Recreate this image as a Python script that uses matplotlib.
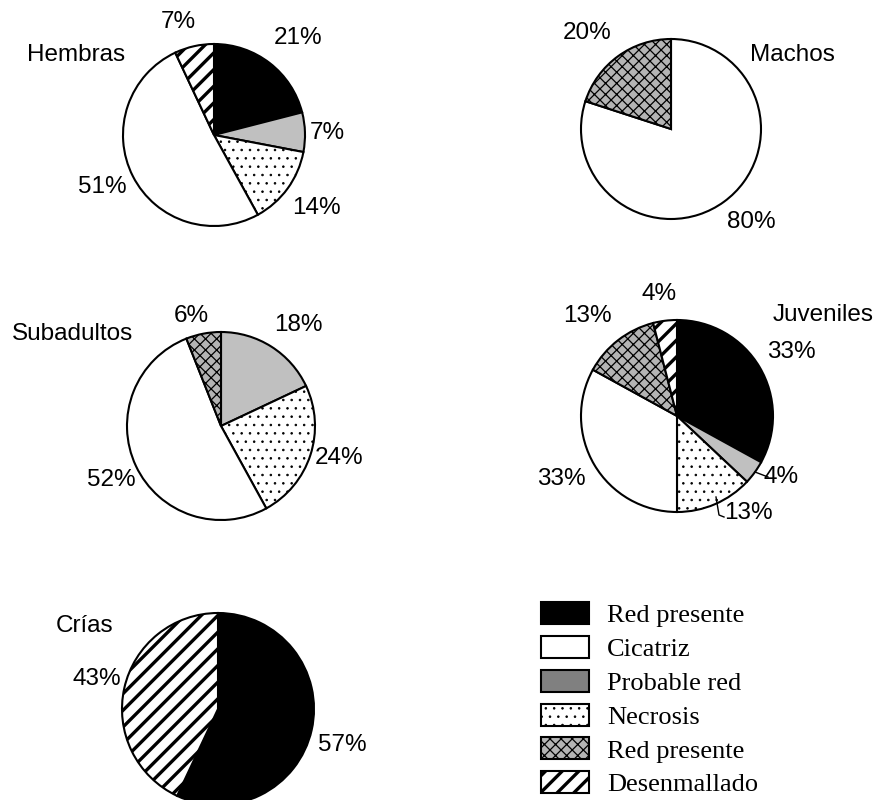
import numpy as np
import matplotlib.pyplot as plt
from matplotlib.patches import Patch

plt.rcParams['hatch.linewidth'] = 0.8

# categorias (orden de la leyenda)
categorias = ['Red presente', 'Cicatriz', 'Probable red', 'Necrosis',
              'Red presente', 'Desenmallado']
colores = ['black', 'white', '#c0c0c0', 'white', '#b4b4b4', 'white']
tramas = ['', '', '', '..', 'xxx', '//']
grosor_trama = [None, None, None, 0.6, 0.9, 2.4]

# porcentajes por grupo (mismo orden que categorias, 0 = no aparece)
hembras = [21, 51, 7, 14, 0, 7]
machos = [0, 80, 0, 0, 20, 0]
subadultos = [0, 52, 18, 24, 6, 0]
juveniles = [33, 33, 4, 13, 13, 4]
crias = [57, 0, 0, 0, 0, 43]

# orden de dibujo en sentido horario desde las 12
orden = [0, 2, 3, 1, 4, 5]

H = 800
fig = plt.figure(figsize=(8.81, 8), dpi=100)
ax = fig.add_axes([0, 0, 1, 1])


def dibujar_pie(vals, cx, cy, r):
    idx = [i for i in orden if vals[i] > 0]
    wedges, _ = ax.pie([vals[i] for i in idx],
                       colors=[colores[i] for i in idx],
                       hatch=[tramas[i] for i in idx],
                       startangle=90, counterclock=False,
                       center=(cx, H - cy), radius=r,
                       wedgeprops=dict(edgecolor='black', linewidth=1.5))
    for w, i in zip(wedges, idx):
        if grosor_trama[i] and hasattr(w, 'set_hatch_linewidth'):
            w.set_hatch_linewidth(grosor_trama[i])
    return wedges


dibujar_pie(hembras, 214, 135, 91)
dibujar_pie(machos, 671, 129, 90)
dibujar_pie(subadultos, 221, 426, 94)
dibujar_pie(juveniles, 677, 416, 96)
dibujar_pie(crias, 218, 709, 96)

ax.set_xlim(0, 881)
ax.set_ylim(0, 800)
ax.set_aspect('equal')
ax.axis('off')

fs = 17.5
sans = 'Liberation Sans'


def txt(x, y, s):
    ax.text(x, H - y, s, fontsize=fs, family=sans, ha='center', va='center')


# Hembras
txt(76, 55, 'Hembras')
txt(178, 22, '7%')
txt(298, 38, '21%')
txt(327, 133, '7%')
txt(316, 208, '14%')
txt(102, 187, '51%')
# Machos
txt(587, 33, '20%')
txt(792, 55, 'Machos')
txt(751, 222, '80%')
# Subadultos
txt(73, 334, 'Subadultos')
txt(191, 316, '6%')
txt(298, 325, '18%')
txt(339, 458, '24%')
txt(111, 480, '52%')
# Juveniles
txt(823, 315, 'Juveniles')
txt(659, 294, '4%')
txt(587, 316, '13%')
txt(791, 352, '33%')
txt(781, 477, '4%')
txt(748, 513, '13%')
txt(561, 479, '33%')
ax.plot([755, 768], [H - 472, H - 477], color='black', lw=1)
ax.plot([716, 719, 724], [H - 497, H - 515, H - 517], color='black', lw=1)
# Crías
txt(85, 626, 'Crías')
txt(97, 679, '43%')
txt(342, 745, '57%')

# leyenda
lfs = 19
handles = []
for c, t, g, nombre in zip(colores, tramas, grosor_trama, categorias):
    fc = '#808080' if c == '#c0c0c0' else c
    handles.append(Patch(facecolor=fc, edgecolor='black', hatch=t,
                         linewidth=1.5, label=nombre))
leg = fig.legend(handles=handles, loc='upper left',
                 bbox_to_anchor=(541 / 881, 1 - 602 / 800),
                 frameon=False, borderpad=0, borderaxespad=0,
                 handlelength=1.82, handleheight=0.91,
                 labelspacing=0.33, handletextpad=0.68,
                 prop={'family': 'Liberation Serif', 'size': lfs})
for p, g in zip(leg.get_patches(), grosor_trama):
    if g and hasattr(p, 'set_hatch_linewidth'):
        p.set_hatch_linewidth(g)

fig.savefig('out.png', dpi=100)
